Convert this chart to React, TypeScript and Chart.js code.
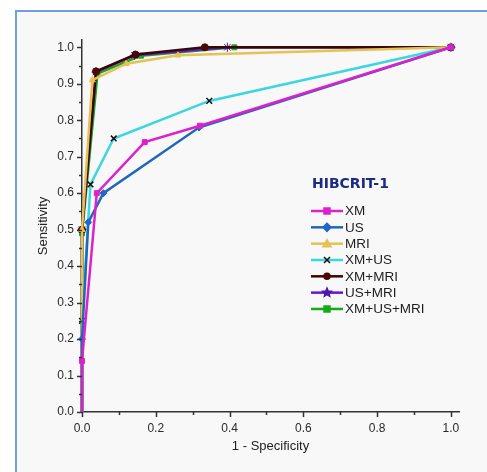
import React, { useEffect, useRef } from "react";
import { Chart, registerables } from "chart.js";

Chart.register(...registerables);

const seriesLabels = ["XM", "US", "MRI", "XM+US", "XM+MRI", "US+MRI", "XM+US+MRI"];
const seriesColors = ["#dc20cc", "#1f68b8", "#e6c155", "#3cd6e0", "#3a0606", "#6418d4", "#16aa1a"];
const markerColors = ["#dc20cc", "#1f68c8", "#e6c155", "#111111", "#4a0808", "#4a1aa8", "#16aa1a"];
const markerStyles = ["rect", "rectRot", "triangle", "crossRot", "circle", "star", "rect"];

const xmX = [0, 0, 0.04, 0.17, 0.32, 1];
const xmY = [0, 0.14, 0.6, 0.74, 0.785, 1];
const usX = [0, 0, 0.017, 0.058, 0.317, 1];
const usY = [0, 0.2, 0.52, 0.6, 0.78, 1];
const mriX = [0, 0, 0.028, 0.12, 0.26, 1];
const mriY = [0, 0.5, 0.91, 0.955, 0.978, 1];
const xmusX = [0, 0, 0.023, 0.086, 0.345, 1];
const xmusY = [0, 0.25, 0.624, 0.75, 0.853, 1];
const xmmriX = [0, 0, 0.038, 0.145, 0.333, 1];
const xmmriY = [0, 0.5, 0.934, 0.98, 1.0, 1];
const usmriX = [0, 0, 0.038, 0.142, 0.394, 1];
const usmriY = [0, 0.5, 0.932, 0.978, 1.0, 1];
const allX = [0, 0, 0.042, 0.16, 0.413, 1];
const allY = [0, 0.49, 0.928, 0.977, 1.0, 1];

const seriesX = [xmX, usX, mriX, xmusX, xmmriX, usmriX, allX];
const seriesY = [xmY, usY, mriY, xmusY, xmmriY, usmriY, allY];

const legendTitle = "HIBCRIT-1";
const xTitle = "1 - Specificity";
const yTitle = "Sensitivity";

const AXIS = "#333333";

function drawMarker(ctx: CanvasRenderingContext2D, style: string, x: number, y: number, r: number) {
  ctx.beginPath();
  if (style === "rect") {
    ctx.rect(x - r, y - r, 2 * r, 2 * r);
    ctx.fill();
    ctx.stroke();
  } else if (style === "rectRot") {
    ctx.moveTo(x, y - r - 1);
    ctx.lineTo(x + r + 1, y);
    ctx.lineTo(x, y + r + 1);
    ctx.lineTo(x - r - 1, y);
    ctx.closePath();
    ctx.fill();
    ctx.stroke();
  } else if (style === "triangle") {
    ctx.moveTo(x, y - r - 1);
    ctx.lineTo(x + r + 1, y + r);
    ctx.lineTo(x - r - 1, y + r);
    ctx.closePath();
    ctx.fill();
    ctx.stroke();
  } else if (style === "crossRot") {
    ctx.moveTo(x - r, y - r);
    ctx.lineTo(x + r, y + r);
    ctx.moveTo(x + r, y - r);
    ctx.lineTo(x - r, y + r);
    ctx.stroke();
  } else if (style === "circle") {
    ctx.arc(x, y, r, 0, Math.PI * 2);
    ctx.fill();
    ctx.stroke();
  } else if (style === "star") {
    for (let k = 0; k < 10; k++) {
      const ang = -Math.PI / 2 + (k * Math.PI) / 5;
      const rr = k % 2 === 0 ? r + 1.5 : (r + 1.5) * 0.45;
      const px = x + rr * Math.cos(ang);
      const py = y + rr * Math.sin(ang);
      if (k === 0) ctx.moveTo(px, py);
      else ctx.lineTo(px, py);
    }
    ctx.closePath();
    ctx.fill();
    ctx.stroke();
  }
}

const customPlugin = {
  id: "custom",
  afterDraw(chart: any) {
    const ctx = chart.ctx;
    const xs = chart.scales.x;
    const ys = chart.scales.y;
    ctx.save();
    ctx.strokeStyle = AXIS;
    ctx.lineWidth = 1.5;
    for (let i = 0; i <= 10; i++) {
      const v = i / 10;
      const px = Math.round(xs.getPixelForValue(v)) + 0.5;
      const len = i % 2 === 0 ? 5 : 3;
      ctx.beginPath();
      ctx.moveTo(px, ys.bottom);
      ctx.lineTo(px, ys.bottom + len);
      ctx.stroke();
    }
    for (let i = 0; i <= 20; i++) {
      const v = i / 20;
      const py = Math.round(ys.getPixelForValue(v)) + 0.5;
      const len = i % 2 === 0 ? 5 : 3;
      ctx.beginPath();
      ctx.moveTo(xs.left, py);
      ctx.lineTo(xs.left - len, py);
      ctx.stroke();
    }
    const lx = 311;
    const ly = 211;
    const step = 16.33;
    ctx.fillStyle = "#1b2a82";
    ctx.font = "bold 14px 'DejaVu Sans'";
    ctx.textBaseline = "middle";
    ctx.textAlign = "left";
    ctx.fillText(legendTitle, 312, 184);
    chart.data.datasets.forEach((ds: any, i: number) => {
      const y = ly + i * step;
      ctx.strokeStyle = ds.borderColor;
      ctx.lineWidth = 2.5;
      ctx.beginPath();
      ctx.moveTo(lx, y);
      ctx.lineTo(lx + 32, y);
      ctx.stroke();
      ctx.fillStyle = ds.pointBackgroundColor;
      ctx.strokeStyle = ds.pointBorderColor;
      ctx.lineWidth = 1.5;
      drawMarker(ctx, ds.pointStyle, lx + 16, y, 3);
      ctx.fillStyle = "#1e1e1e";
      ctx.font = "13.5px 'Liberation Sans', Arial";
      ctx.fillText(ds.label, lx + 34, y + 0.5);
    });
    ctx.restore();
  },
};

export default function App() {
  const ref = useRef<HTMLCanvasElement | null>(null);
  useEffect(() => {
    if (!ref.current) return;
    const datasets = seriesLabels.map((label, i) => {
      const baseR = markerStyles[i] === "star" ? 4.5 : markerStyles[i] === "crossRot" ? 4 : 3.5;
      return {
        label,
        data: seriesX[i].map((x, j) => ({ x, y: seriesY[i][j] })),
        borderColor: seriesColors[i],
        backgroundColor: seriesColors[i],
        pointBackgroundColor: markerColors[i],
        pointBorderColor: markerColors[i],
        pointStyle: markerStyles[i],
        pointRadius: seriesX[i].map((_, j) => (j === 0 ? 0 : baseR)),
        pointBorderWidth: markerStyles[i] === "crossRot" ? 1.5 : 1,
        borderWidth: 2.5,
        showLine: true,
        tension: 0,
        clip: false as any,
      };
    });
    const chart = new Chart(ref.current, {
      type: "scatter",
      data: { datasets },
      options: {
        animation: false,
        responsive: false,
        maintainAspectRatio: false,
        layout: { padding: { left: 0, top: 40, right: 28, bottom: 0 } },
        plugins: { legend: { display: false }, tooltip: { enabled: false } },
        scales: {
          x: {
            type: "linear",
            min: 0,
            max: 1.022,
            afterFit: (s: any) => {
              s.height = 60;
            },
            afterBuildTicks: (s: any) => {
              s.ticks = [0, 0.2, 0.4, 0.6, 0.8, 1.0].map((v) => ({ value: v }));
            },
            grid: { drawOnChartArea: false, drawTicks: false },
            border: { display: true, color: AXIS, width: 1.5 },
            ticks: {
              padding: 9,
              color: "#2a2a2a",
              font: { family: "'Liberation Sans', Arial", size: 12 },
              callback: (v: any) => Number(v).toFixed(1),
            },
            title: {
              display: true,
              text: xTitle,
              color: "#222",
              font: { family: "'Liberation Sans', Arial", size: 13 },
              padding: { top: 0, bottom: 18 },
            },
          },
          y: {
            type: "linear",
            min: 0,
            max: 1.02,
            afterFit: (s: any) => {
              s.width = 82;
            },
            afterBuildTicks: (s: any) => {
              s.ticks = [0, 0.1, 0.2, 0.3, 0.4, 0.5, 0.6, 0.7, 0.8, 0.9, 1.0].map((v) => ({ value: v }));
            },
            grid: { drawOnChartArea: false, drawTicks: false },
            border: { display: true, color: AXIS, width: 1.5 },
            ticks: {
              padding: 8,
              color: "#2a2a2a",
              font: { family: "'Liberation Sans', Arial", size: 12 },
              callback: (v: any) => Number(v).toFixed(1),
            },
            title: {
              display: true,
              text: yTitle,
              color: "#222",
              font: { family: "'Liberation Sans', Arial", size: 13 },
              padding: { top: 36, bottom: 0 },
            },
          },
        },
      },
      plugins: [customPlugin],
    });
    return () => chart.destroy();
  }, []);

  return (
    <div style={{ position: "fixed", left: 0, top: 0, width: 487, height: 472, background: "#ffffff" }}>
      <div
        style={{
          position: "absolute",
          left: 15,
          top: 10,
          width: 487 - 15 - 2,
          height: 472 - 10,
          background: "#f8f8f8",
          borderLeft: "2px solid #6f9fe0",
          borderTop: "2px solid #6f9fe0",
          borderRight: "1px solid #8fb6ea",
        }}
      />
      <canvas ref={ref} width={487} height={472} style={{ position: "absolute", left: 0, top: 0 }} />
    </div>
  );
}
